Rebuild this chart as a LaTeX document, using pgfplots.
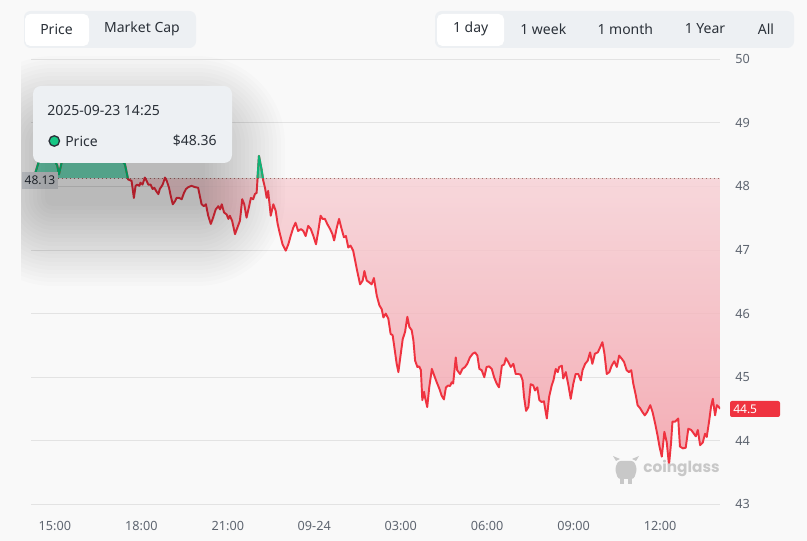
\documentclass[border=0pt]{standalone}
\usepackage{pgfplots}
\pgfplotsset{compat=1.18}
\usepackage{pgfplotstable}
\usepackage{fontspec}
\setmainfont{Noto Sans}
\newfontfamily\popp{Poppins}
\definecolor{bgc}{HTML}{F9F9F9}
\definecolor{gridc}{HTML}{E3E3E3}
\definecolor{tickc}{HTML}{5E6570}
\definecolor{redl}{HTML}{EF3340}
\definecolor{greenl}{HTML}{16C784}
\definecolor{redtop}{HTML}{F7CFD4}
\definecolor{redbot}{HTML}{F29AA4}
\definecolor{dotc}{HTML}{A86868}
\definecolor{lblc}{HTML}{DCDFE3}
\definecolor{txtc}{HTML}{2B3139}
\definecolor{pillc}{HTML}{EDF0F3}
\definecolor{tipc}{HTML}{EDF0F3}
\definecolor{wmc}{HTML}{C8C8C8}
\pagecolor{bgc}

\pgfplotstableread{
x y
14.31 48.20
14.42 48.36
14.50 48.45
14.60 48.52
14.70 48.47
14.80 48.55
14.90 48.48
15.00 48.40
15.08 48.33
15.14 48.19
15.23 48.37
15.32 48.48
15.40 48.52
15.50 48.60
15.60 48.55
15.70 48.62
15.80 48.58
15.90 48.66
16.00 48.60
16.10 48.55
16.20 48.62
16.30 48.68
16.40 48.64
16.50 48.58
16.60 48.63
16.70 48.57
16.80 48.52
16.90 48.56
17.00 48.50
17.10 48.45
17.20 48.42
17.33 48.40
17.43 48.35
17.54 48.11
17.66 48.09
17.74 47.82
17.80 48.01
17.86 48.03
17.93 48.01
17.97 48.06
18.04 48.03
18.12 48.14
18.18 48.09
18.24 48.03
18.32 48.03
18.39 47.96
18.45 47.98
18.51 47.93
18.59 47.88
18.64 47.96
18.74 48.03
18.82 48.14
18.88 48.09
18.96 47.98
19.02 47.85
19.09 47.72
19.17 47.77
19.22 47.82
19.31 47.82
19.40 47.80
19.48 47.90
19.55 47.96
19.63 47.99
19.74 48.01
19.86 47.99
19.97 47.98
20.09 47.72
20.17 47.69
20.24 47.72
20.32 47.54
20.41 47.41
20.49 47.51
20.58 47.64
20.67 47.69
20.73 47.64
20.79 47.72
20.87 47.59
20.96 47.56
21.02 47.49
21.07 47.54
21.15 47.46
21.25 47.25
21.33 47.35
21.42 47.46
21.50 47.80
21.57 47.72
21.65 47.51
21.74 47.69
21.80 47.82
21.88 47.80
21.94 47.88
22.00 47.90
22.08 48.48
22.17 48.27
22.23 48.09
22.29 47.98
22.35 47.82
22.40 47.93
22.49 47.54
22.58 47.72
22.66 47.62
22.73 47.41
22.81 47.25
22.90 47.09
23.01 46.99
23.10 47.09
23.18 47.22
23.27 47.35
23.35 47.43
23.44 47.30
23.54 47.33
23.62 47.30
23.70 47.22
23.79 47.38
23.88 47.33
23.97 47.22
24.06 47.09
24.14 47.30
24.22 47.54
24.29 47.49
24.37 47.49
24.45 47.41
24.55 47.33
24.63 47.25
24.69 47.15
24.78 47.35
24.86 47.49
24.95 47.33
25.03 47.20
25.10 47.22
25.18 47.04
25.26 47.07
25.35 46.99
25.42 46.83
25.49 46.67
25.59 46.46
25.68 46.52
25.74 46.67
25.82 46.52
25.91 46.49
25.99 46.46
26.07 46.56
26.17 46.28
26.26 46.13
26.34 46.07
26.40 45.94
26.48 46.00
26.57 45.92
26.65 45.68
26.72 45.66
26.78 45.47
26.86 45.21
26.92 45.08
26.97 45.26
27.07 45.60
27.15 45.71
27.23 45.95
27.30 45.79
27.38 45.74
27.44 45.58
27.50 45.26
27.58 45.16
27.64 45.17
27.70 45.11
27.75 44.64
27.81 44.77
27.84 44.69
27.92 44.53
27.99 44.84
28.08 45.13
28.16 45.03
28.25 44.92
28.34 44.82
28.42 44.71
28.50 44.65
28.57 44.84
28.65 44.87
28.71 44.86
28.77 44.92
28.82 44.90
28.91 45.31
28.96 45.11
29.06 45.05
29.14 45.13
29.23 45.16
29.31 45.21
29.40 45.31
29.50 45.37
29.58 45.39
29.66 45.34
29.73 45.13
29.81 45.11
29.90 45.00
29.98 45.16
30.07 45.17
30.16 45.13
30.24 45.00
30.33 44.90
30.41 44.84
30.51 45.18
30.59 45.20
30.65 45.30
30.73 45.24
30.82 45.16
30.91 45.21
30.99 45.05
31.08 45.05
31.16 45.04
31.23 44.95
31.28 44.69
31.35 44.47
31.43 44.53
31.51 44.89
31.60 44.87
31.66 44.79
31.74 44.84
31.81 44.64
31.89 44.61
31.97 44.62
32.07 44.35
32.15 44.69
32.24 44.87
32.30 44.95
32.38 45.13
32.45 45.08
32.50 45.16
32.59 45.18
32.64 44.98
32.73 45.08
32.82 44.87
32.90 44.66
32.99 44.90
33.07 45.05
33.16 45.05
33.25 44.95
33.31 45.11
33.40 45.21
33.49 45.26
33.57 45.39
33.65 45.21
33.74 45.37
33.84 45.39
33.92 45.47
34.00 45.55
34.07 45.37
34.15 45.05
34.24 45.08
34.32 45.18
34.41 45.25
34.50 45.16
34.58 45.34
34.67 45.29
34.75 45.24
34.84 45.11
34.92 45.08
35.00 45.11
35.07 44.90
35.16 44.71
35.22 44.56
35.31 44.51
35.39 44.45
35.47 44.40
35.55 44.45
35.66 44.56
35.74 44.45
35.83 44.27
35.91 44.09
35.98 43.91
36.06 43.75
36.15 44.14
36.23 43.98
36.31 43.62
36.38 43.96
36.43 44.30
36.52 44.30
36.63 44.35
36.69 43.91
36.79 43.88
36.89 43.89
36.98 44.19
37.08 44.17
37.16 44.12
37.24 44.07
37.31 44.17
37.39 43.93
37.48 43.97
37.56 44.11
37.62 44.06
37.70 44.30
37.77 44.54
37.83 44.66
37.91 44.40
37.97 44.56
38.06 44.52
38.08 44.50
}\pricedata

\begin{document}
\begin{tikzpicture}
\path (0,0) rectangle (605.25pt,405.75pt);
\begin{axis}[
  at={(23.25pt,27.5pt)}, anchor=south west,
  scale only axis, width=516.75pt, height=333.75pt,
  xmin=14.17, xmax=38.08, ymin=43, ymax=50,
  axis line style={draw=none},
  ytick={43,44,45,46,47,48,49,50},
  ymajorgrids, grid style={gridc, line width=0.75pt},
  major tick length=0pt,
  yticklabel pos=right,
  xtick={15,18,21,24,27,30,33,36},
  xticklabels={15:00,18:00,21:00,09-24,03:00,06:00,09:00,12:00},
  tick label style={font=\fontsize{9.5}{11}\selectfont, text=tickc},
  yticklabel style={anchor=west, xshift=8pt},
  xticklabel style={yshift=-9pt},
  /pgf/number format/assume math mode=true,
]
\addplot[draw=none, top color=redtop, bottom color=redbot, fill opacity=0.8, forget plot,
  y filter/.expression={min(y,48.13)}]
  table {\pricedata} -- (axis cs:38.08,48.13) -- (axis cs:14.31,48.13) -- cycle;
\addplot[draw=none, fill=greenl, fill opacity=0.55, forget plot,
  y filter/.expression={max(y,48.13)}]
  table {\pricedata} -- (axis cs:38.08,48.13) -- (axis cs:14.31,48.13) -- cycle;
\draw[dotc, line width=0.75pt, dash pattern=on 0.75pt off 2.25pt] (axis cs:15.10,48.13) -- (axis cs:38.08,48.13);
\addplot[redl, line width=1.45pt, line join=round] table {\pricedata};
\addplot[greenl, line width=1.45pt, line join=round] coordinates {
(14.31,48.20) (14.42,48.36) (14.50,48.45) (14.60,48.52) (14.70,48.47) (14.80,48.55)
(14.90,48.48) (15.00,48.40) (15.08,48.33) (15.14,48.19) (15.23,48.37) (15.32,48.48)
(15.40,48.52) (15.50,48.60) (15.60,48.55) (15.70,48.62) (15.80,48.58) (15.90,48.66)
(16.00,48.60) (16.10,48.55) (16.20,48.62) (16.30,48.68) (16.40,48.64) (16.50,48.58)
(16.60,48.63) (16.70,48.57) (16.80,48.52) (16.90,48.56) (17.00,48.50) (17.10,48.45)
(17.20,48.42) (17.33,48.40) (17.43,48.35) (17.53,48.13)};
\addplot[greenl, line width=1.45pt, line join=round] coordinates {
(22.03,48.13) (22.08,48.48) (22.17,48.27) (22.22,48.13)};
\end{axis}
\begin{scope}[x=0.75pt,y=0.75pt]
% 48.13 label
\fill[lblc] (22,352) rectangle (58,369);
\node[font=\fontsize{9}{10}\selectfont, text=txtc, inner sep=0] at (40,360.5) {48.13};
% 44.5 label
\fill[redl, rounded corners=1.5pt] (730,124) rectangle (780,140);
\node[font=\fontsize{9}{10}\selectfont\bfseries, text=white, anchor=west, inner sep=0] at (733,132) {44.5};
% watermark
\fill[wmc, rounded corners=2pt] (618,62) -- (634,62) -- (637,72) -- (634,80) -- (618,80) -- (615,72) -- cycle;
\fill[wmc] (616,80) -- (613,85) -- (620,82) -- cycle;
\fill[wmc] (636,80) -- (639,85) -- (632,82) -- cycle;
\fill[wmc] (620,62) rectangle (624,57);
\fill[wmc] (628,62) rectangle (632,57);
\node[font=\popp\fontsize{11.5}{13}\selectfont\bfseries, text=wmc, anchor=west, inner sep=0] at (643,73) {coinglass};
% tooltip shadow (layered)
\begin{scope}
\clip (21,0) rectangle (807,491);
\foreach \r in {0,4,...,80} {
  \fill[black, fill opacity=0.012, rounded corners=\r*0.75pt+6pt] (45-\r,335-\r) rectangle (205+\r,405+\r);
}
\end{scope}
\fill[tipc, rounded corners=6pt] (33,378) rectangle (232,455);
\node[font=\fontsize{10.5}{12}\selectfont, text=txtc, anchor=west, inner sep=0] at (47,430) {2025-09-23 14:25};
\filldraw[fill=greenl, draw=txtc, line width=1pt] (54.3,400) circle (5.2);
\node[font=\fontsize{10.5}{12}\selectfont, text=txtc, anchor=west, inner sep=0] at (65,400) {Price};
\node[font=\fontsize{10.5}{12}\selectfont, text=txtc, anchor=east, inner sep=0] at (217,400) {\$48.36};
% buttons
\fill[pillc, rounded corners=5pt] (24,493) rectangle (196,530);
\fill[white, rounded corners=4pt] (25,495) rectangle (89,527);
\node[font=\fontsize{10.5}{12}\selectfont, text=txtc, inner sep=0] at (56.5,512) {Price};
\node[font=\fontsize{10.5}{12}\selectfont, text=txtc, inner sep=0] at (142,512) {Market Cap};
\fill[pillc, rounded corners=5pt] (435,493) rectangle (794,530);
\fill[white, rounded corners=4pt] (437,495) rectangle (504,527);
\node[font=\fontsize{10.5}{12}\selectfont, text=txtc, inner sep=0] at (470.7,512) {1 day};
\node[font=\fontsize{10.5}{12}\selectfont, text=txtc, inner sep=0] at (543.3,512) {1 week};
\node[font=\fontsize{10.5}{12}\selectfont, text=txtc, inner sep=0] at (625.3,512) {1 month};
\node[font=\fontsize{10.5}{12}\selectfont, text=txtc, inner sep=0] at (705,512) {1 Year};
\node[font=\fontsize{10.5}{12}\selectfont, text=txtc, inner sep=0] at (766,512) {All};
\end{scope}
\end{tikzpicture}
\end{document}
